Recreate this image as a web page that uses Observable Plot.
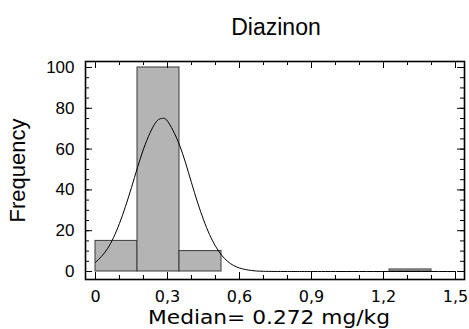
<!DOCTYPE html>
<html>
<head>
<meta charset="utf-8">
<script src="https://cdn.jsdelivr.net/npm/d3@7"></script>
<script src="https://cdn.jsdelivr.net/npm/@observablehq/plot@0.6"></script>
<style>
  html, body { margin: 0; padding: 0; background: #fff; }
</style>
</head>
<body>
<div id="chart"></div>
<script>
// ---- data ----
const title = "Diazinon";
const yLabel = "Frequency";
const xLabel = "Median= 0.272 mg/kg";

const binStart = [0, 0.175, 0.35, 1.225];
const binEnd   = [0.175, 0.35, 0.525, 1.4];
const binCount = [15, 100, 10, 1];

const curveX = [0, 0.05, 0.1, 0.15, 0.2, 0.25, 0.278, 0.3, 0.35, 0.4, 0.45, 0.5, 0.55, 0.6, 0.65, 0.7, 0.8, 1.0, 1.5];
const curveY = [4.5, 11.2, 23.6, 41.2, 60, 72.9, 75, 73.7, 62, 43.5, 25.4, 12.4, 5.0, 1.7, 0.5, 0.1, 0, 0, 0];

const xTickValues = [0, 0.3, 0.6, 0.9, 1.2, 1.5];
const xTickLabels = ["0", "0,3", "0,6", "0,9", "1,2", "1,5"];
const xMinorTicks = [0, 0.1, 0.2, 0.3, 0.4, 0.5, 0.6, 0.7, 0.8, 0.9, 1.0, 1.1, 1.2, 1.3, 1.4, 1.5];
const yTickValues = [0, 20, 40, 60, 80, 100];
const yTickLabels = ["0", "20", "40", "60", "80", "100"];
const yMinorTicks = [0, 5, 10, 15, 20, 25, 30, 35, 40, 45, 50, 55, 60, 65, 70, 75, 80, 85, 90, 95, 100];

// ---- build ----
const bars = binStart.map((s, i) => ({x1: s, x2: binEnd[i], y: binCount[i]}));
const curve = curveX.map((x, i) => ({x, y: curveY[i]}));

const W = 469, H = 329;
const mL = 85, mR = 5, mT = 61, mB = 50;
const frameH = H - mT - mB;
const frameW = W - mL - mR;
const majorLen = 7, minorLen = 4;

const arial = "Liberation Sans, Arial, sans-serif";
const wide = "DejaVu Sans, Verdana, sans-serif";

const svg = Plot.plot({
  width: W,
  height: H,
  marginLeft: mL,
  marginRight: mR,
  marginTop: mT,
  marginBottom: mB,
  x: {domain: [-0.04167, 1.5375], axis: null},
  y: {domain: [-3.92, 102.94], axis: null},
  marks: [
    Plot.rectY(bars, {x1: "x1", x2: "x2", y: "y", fill: "#b4b4b4", stroke: "#3a3a3a", strokeWidth: 1}),
    Plot.line(curve, {x: "x", y: "y", curve: "natural", stroke: "#000", strokeWidth: 1}),
    // inward ticks: bottom & top
    Plot.ruleX(xMinorTicks, {x: d => d, insetTop: frameH - minorLen, stroke: "#000", strokeWidth: 1}),
    Plot.ruleX(xMinorTicks, {x: d => d, insetBottom: frameH - minorLen, stroke: "#000", strokeWidth: 1}),
    Plot.ruleX(xTickValues, {x: d => d, insetTop: frameH - majorLen, stroke: "#000", strokeWidth: 1}),
    Plot.ruleX(xTickValues, {x: d => d, insetBottom: frameH - majorLen, stroke: "#000", strokeWidth: 1}),
    // inward ticks: left & right
    Plot.ruleY(yMinorTicks, {y: d => d, insetRight: frameW - minorLen, stroke: "#000", strokeWidth: 1}),
    Plot.ruleY(yMinorTicks, {y: d => d, insetLeft: frameW - minorLen, stroke: "#000", strokeWidth: 1}),
    Plot.ruleY(yTickValues, {y: d => d, insetRight: frameW - majorLen, stroke: "#000", strokeWidth: 1}),
    Plot.ruleY(yTickValues, {y: d => d, insetLeft: frameW - majorLen, stroke: "#000", strokeWidth: 1}),
    Plot.frame({stroke: "#000", strokeWidth: 1.6}),
    // tick labels
    Plot.text(xTickValues, {x: d => d, text: (d, i) => xTickLabels[i], frameAnchor: "bottom", dy: 17, lineAnchor: "middle", fontFamily: wide, fontSize: 16, fill: "#000"}),
    Plot.text(yTickValues, {y: d => d, text: (d, i) => yTickLabels[i], frameAnchor: "left", dx: -11, textAnchor: "end", lineAnchor: "middle", fontFamily: arial, fontSize: 17, fill: "#000"}),
    // titles
    Plot.text([title], {text: d => d, frameAnchor: "top", dx: 1, dy: -34, textAnchor: "middle", lineAnchor: "middle", fontFamily: arial, fontSize: 23, fill: "#000"}),
    Plot.text([yLabel], {text: d => d, frameAnchor: "left", dx: -68, rotate: -90, textAnchor: "middle", lineAnchor: "middle", fontFamily: arial, fontSize: 22, fill: "#000"}),
    Plot.text([xLabel], {text: d => d, frameAnchor: "bottom", dx: -6, dy: 38, textAnchor: "middle", lineAnchor: "middle", fontFamily: wide, fontSize: 19, fill: "#000"})
  ]
});

d3.select(svg).selectAll("text")
  .filter(function() { return this.textContent === xLabel; })
  .attr("textLength", 242)
  .attr("lengthAdjust", "spacingAndGlyphs");

document.getElementById("chart").appendChild(svg);
</script>
</body>
</html>
